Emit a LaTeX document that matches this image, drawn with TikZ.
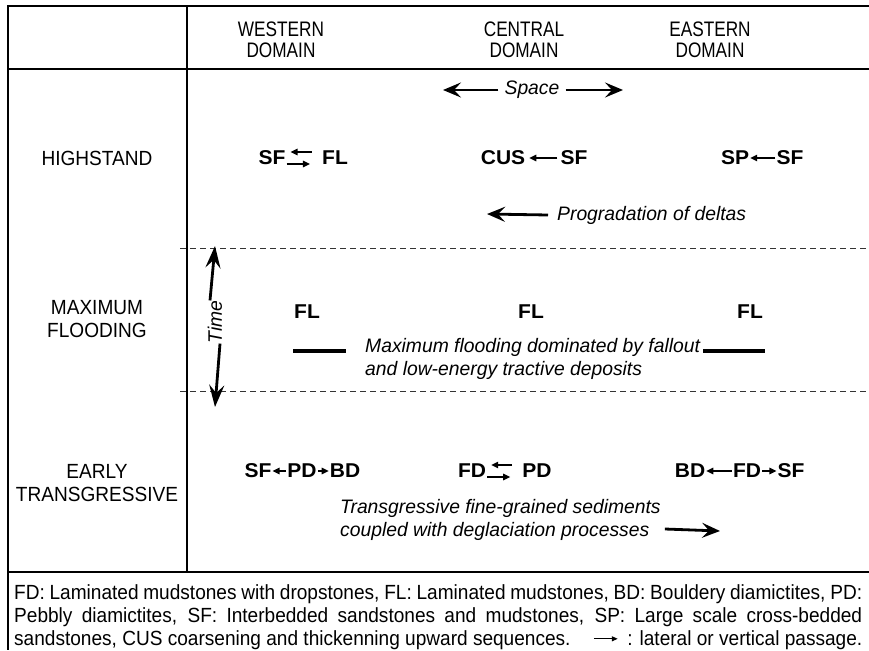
\documentclass[tikz,border=0pt]{standalone}
\usepackage{fontspec}
\setmainfont{Liberation Sans}
\newfontfamily\hdfont[FakeStretch=0.82]{Liberation Sans}
\newfontfamily\rowfont[FakeStretch=0.93]{Liberation Sans}
\newfontfamily\lblfont[FakeStretch=1.05]{Liberation Sans}
\newfontfamily\itfont[FakeStretch=0.99]{Liberation Sans}
\newfontfamily\ftfont[FakeStretch=0.93]{Liberation Sans}
\usetikzlibrary{arrows.meta}
\begin{document}
\begin{tikzpicture}[x=1pt,y=-1pt,
  frame/.style={line width=1.3pt},
  dashline/.style={line width=1pt, dash pattern=on 6pt off 4pt, black!80},
  hdr/.style={font=\hdfont\fontsize{21}{21}\selectfont, align=center, inner sep=0pt},
  rowlbl/.style={font=\rowfont\fontsize{20.5}{23}\selectfont, align=center, inner sep=0pt},
  lbl/.style={font=\lblfont\bfseries\fontsize{20}{22}\selectfont, inner sep=1pt},
  itx/.style={font=\itfont\itshape\fontsize{19.5}{22.5}\selectfont, align=left, inner sep=0pt},
  pass/.style={line width=1.4pt, -{Triangle[length=7pt,width=6.5pt]}},
  bigarr/.style={line width=2.8pt, -{Stealth[length=18pt,width=15pt,inset=7pt]}},
  timearr/.style={line width=2.8pt, -{Stealth[length=22pt,width=15pt,inset=8pt]}},
  bar/.style={line width=4.5pt},
  foot/.style={font=\ftfont\fontsize{20.5}{23}\selectfont, inner sep=0pt, anchor=west}
]
\useasboundingbox (0,0) rectangle (869,650);
\fill[white] (0,0) rectangle (869,650);

% frame
\draw[frame] (869,6) -- (8,6) -- (8,650);
\draw[frame] (8,69) -- (869,69);
\draw[frame] (187,6) -- (187,572);
\draw[frame] (8,572) -- (869,572);
\draw[dashline] (180,248) -- (869,248);
\draw[dashline] (180,391) -- (869,391);

% header
\node[hdr] (hw) at (281,40) {WESTERN\\DOMAIN};
\node[hdr] (hc) at (524,40) {CENTRAL\\DOMAIN};
\node[hdr] (he) at (710,40) {EASTERN\\DOMAIN};

% row labels
\node[rowlbl] (rh) at (97,158) {HIGHSTAND};
\node[rowlbl] (rm) at (97,319) {MAXIMUM\\FLOODING};
\node[rowlbl] (rt) at (97,483) {EARLY\\TRANSGRESSIVE};

% space arrow
\node[itx] (space) at (532,90) {Space};
\coordinate (spl) at (443,90);
\coordinate (spr) at (623,90);
\draw[bigarr] ([xshift=-6pt]space.west) -- (spl);
\draw[bigarr] ([xshift=6pt]space.east) -- (spr);

% highstand row
\node[lbl] (h1) at (272,158) {SF};
\node[lbl] (h2) at (335,158) {FL};
\draw[pass] ([xshift=-9pt,yshift=6pt]h2.west) -- ([xshift=4pt,yshift=6pt]h1.east);
\draw[pass] ([yshift=-6pt]h1.east) -- ([xshift=-11pt,yshift=-6pt]h2.west);
\node[lbl] (h3) at (503,158) {CUS};
\node[lbl] (h4) at (574,158) {SF};
\draw[pass] ([xshift=-2pt]h4.west) -- ([xshift=3pt]h3.east);
\node[lbl] (h5) at (735,158) {SP};
\node[lbl] (h6) at (790,158) {SF};
\draw[pass] (h6.west) -- (h5.east);

% progradation
\node[itx, anchor=west] (prog) at (557,215) {Progradation of deltas};
\coordinate (progtip) at (487,214);
\draw[bigarr] ([xshift=-9pt]prog.west) -- (progtip);

% time arrow
\node[itx, rotate=90] (time) at (215,322) {Time};
\coordinate (tup) at (215,246);
\coordinate (tdn) at (215,407);
\draw[timearr] ([xshift=-5pt]time.east) -- (tup);
\draw[timearr] ([xshift=5pt]time.west) -- (tdn);

% maximum flooding row
\node[lbl] (m1) at (307,312) {FL};
\node[lbl] (m2) at (531,312) {FL};
\node[lbl] (m3) at (750,312) {FL};
\coordinate (b1a) at (293,351);
\coordinate (b1b) at (346,351);
\coordinate (b2a) at (703,351);
\coordinate (b2b) at (765,351);
\draw[bar] (b1a) -- (b1b);
\draw[bar] (b2a) -- (b2b);
\node[itx, anchor=west] (mtxt) at (365,359) {Maximum flooding dominated by fallout\\and low-energy tractive deposits};

% early transgressive row
\node[lbl] (t1) at (258,471) {SF};
\node[lbl] (t2) at (302,471) {PD};
\node[lbl] (t3) at (345,471) {BD};
\draw[pass] (t2.west) -- (t1.east);
\draw[pass] (t2.east) -- (t3.west);
\node[lbl] (t4) at (472,471) {FD};
\node[lbl] (t5) at (537,471) {PD};
\draw[pass] ([xshift=-9pt,yshift=6pt]t5.west) -- ([xshift=4pt,yshift=6pt]t4.east);
\draw[pass] ([yshift=-6pt]t4.east) -- ([xshift=-11pt,yshift=-6pt]t5.west);
\node[lbl] (t6) at (690,471) {BD};
\node[lbl] (t7) at (747,471) {FD};
\node[lbl] (t8) at (791,471) {SF};
\draw[pass] (t7.west) -- (t6.east);
\draw[pass] (t7.east) -- (t8.west);

\node[itx, anchor=west] (ttxt) at (340,520) {Transgressive fine-grained sediments\\coupled with deglaciation processes};
\coordinate (ttip) at (720,531);
\draw[bigarr] ([xshift=4pt,yshift=-9pt]ttxt.east) -- (ttip);

% footer
\node[foot] (f1) at (14,594) {\makebox[848pt][s]{FD: Laminated mudstones with dropstones, FL: Laminated mudstones, BD: Bouldery diamictites, PD:}};
\node[foot] (f2) at (14,617) {\makebox[848pt][s]{Pebbly diamictites, SF: Interbedded sandstones and mudstones, SP: Large scale cross-bedded}};
\node[foot] (f3) at (14,640) {\makebox[848pt][l]{sandstones, CUS coarsening and thickenning upward sequences.\hfill\tikz[baseline=-0.6ex]\draw[line width=1.1pt,-{Triangle[length=6pt,width=5pt]}] (0pt,0pt) -- (24pt,0pt);\hspace{9pt}: lateral or vertical passage.}};
\end{tikzpicture}
\end{document}
